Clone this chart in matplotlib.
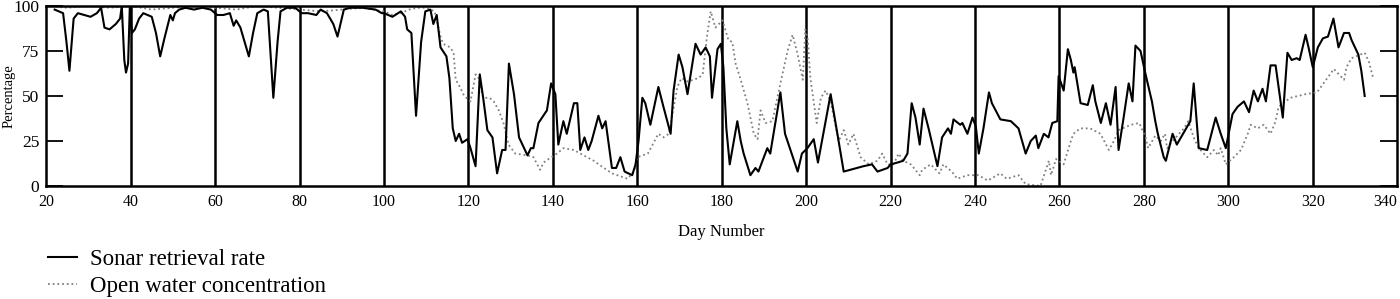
import numpy as np
import matplotlib
matplotlib.use("Agg")
import matplotlib.pyplot as plt

# sonar retrieval rate (solid line)
sonar_day = [22, 23, 24, 24.8, 25.5, 26.5, 27.5, 29, 30.5, 32, 33, 33.8, 35, 36.5, 37.5, 37.9,
             38.5, 38.9, 39.4, 39.8, 40.3, 41, 42, 43, 44, 45, 46, 47, 48, 49.4, 50, 50.5,
             51.5, 53, 55, 57, 59, 60.5, 62, 63.5, 64.4, 65, 66, 67, 68, 69, 70, 71.5,
             72.5, 73.8, 74.8, 75.5, 77, 79, 80.5, 82, 84, 85, 86.5, 88, 89, 90.5,
             92, 95, 98, 99.5, 100, 102, 104, 105, 105.5, 106.5, 107.6, 108.8, 109.8, 111,
             111.7, 112.5, 113.4, 114.8, 115.5, 116.3, 117, 117.8, 118.5, 119.8, 120.5, 121.7,
             122.7, 123.5, 124.5, 125.7, 126.8, 128, 128.8, 129.6, 130.8, 132, 134, 134.8,
             135.4, 136.6, 138.6, 139.6, 140.6, 141.3, 142.5, 143.3, 145, 145.8, 146.5, 147.5,
             148.4, 149.2, 150.8, 151.7, 152.5, 154, 155, 156, 157, 158.8, 159.6, 160.3,
             161.2, 161.9, 163.1, 165, 166.2, 167.9, 168.6, 169.8, 170.7, 171.9, 173.8, 175,
             176.2, 177.2, 177.7, 179, 179.8, 180.4, 181.1, 181.9, 183.7, 184.5, 185.2, 186.8,
             188, 188.7, 190.8, 191.5, 193.9, 195, 198, 199, 200.3, 201.8, 202.8, 205.8,
             207.4, 208.9, 210.5, 213.6, 215.6, 216.9, 219.3, 220, 221.6, 223, 224, 225,
             225.9, 226.9, 227.8, 229, 231.1, 232.2, 233.6, 234.3, 234.9, 236.5, 237, 238.2,
             239.4, 240.2, 240.9, 242, 243.3, 244, 246, 248.5, 250.3, 252, 253.2, 254.4,
             255, 256.3, 257.4, 258.3, 259.5, 259.8, 261, 262, 262.7, 263.3, 263.6, 265,
             266.7, 267.9, 268.5, 269.8, 271, 272.1, 273.3, 274, 275.2, 276.4, 277.3, 278,
             279.2, 280.4, 281.9, 282.7, 283.3, 284.7, 285.2, 286.8, 287.8, 291, 291.8, 293,
             295, 297, 298.2, 299.4, 301, 302.2, 303.7, 304.9, 306, 307, 308.1, 308.9,
             310, 311.2, 312.9, 314, 315, 316.2, 316.9, 318.3, 319, 320, 321.2, 322.4,
             323.6, 324.9, 326.1, 327.4, 328.6, 329.2, 330.8, 331.5, 332.3]
sonar_pct = [98, 97, 96, 80, 64, 93, 96, 95, 94, 96, 99, 88, 87, 90, 93, 100,
             70, 63, 68, 99, 85, 87, 93, 96, 95, 94, 85, 72, 82, 95, 92, 96,
             98, 99, 98, 99, 98, 95, 95, 96, 89, 92, 88, 80, 72, 85, 96, 98,
             97, 49, 80, 97, 99, 99, 96, 96, 95, 98, 96, 90, 83, 98,
             99, 99, 98, 96, 96, 94, 97, 94, 87, 85, 39, 80, 97, 98,
             90, 95, 77, 72, 60, 32, 25, 29, 24, 26, 21, 11,
             62, 49, 31, 27, 7, 20, 20, 68, 51, 27, 17, 21,
             21, 35, 42, 57, 51, 23, 36, 29, 46, 46, 20, 27,
             20, 25, 39, 32, 36, 10, 10, 16, 8, 6, 12, 25,
             49, 46, 34, 55, 44, 29, 53, 73, 66, 51, 79, 73,
             77, 72, 49, 76, 79, 66, 32, 12, 36, 25, 18, 6,
             10, 8, 21, 18, 52, 29, 8, 18, 21, 26, 13, 51,
             29, 8, 9, 11, 12, 8, 10, 12, 13, 14, 18, 46,
             38, 23, 43, 32, 11, 27, 32, 29, 37, 34, 35, 29,
             38, 33, 18, 32, 52, 46, 37, 36, 32, 18, 25, 28,
             21, 29, 27, 35, 36, 61, 53, 76, 70, 63, 66, 46,
             45, 56, 47, 35, 46, 34, 55, 20, 38, 57, 47, 78,
             75, 62, 47, 36, 29, 16, 14, 29, 23, 36, 57, 21,
             20, 38, 29, 21, 40, 44, 47, 41, 53, 47, 54, 47,
             67, 67, 38, 74, 70, 71, 70, 84, 77, 66, 77, 82,
             83, 93, 77, 85, 85, 81, 73, 64, 50]

# open water concentration (dotted line)
water_day = [20, 25, 30, 35, 40, 45, 50, 55, 60, 65, 70, 75, 80, 85, 90, 95,
             100, 102, 104, 106, 108, 110, 112, 113.4, 114, 115.7, 116.5, 117, 118, 119,
             120.5, 121.7, 122.4, 123.5, 125, 126, 127.2, 128.3, 129.5, 131.1, 134, 135.4,
             137, 137.8, 139, 141, 142.5, 145, 146.5, 149.7, 151.5, 154, 157.7, 159.2,
             160, 162.5, 165, 166.2, 167.5, 169.5, 170.5, 172, 174.5, 175.5, 176.5, 177.4,
             178.5, 180.2, 181.6, 182.5, 183.3, 184.5, 186.1, 187.6, 188.5, 189.2, 190.4, 192,
             193.9, 195.6, 196.8, 198, 199.2, 199.8, 200.4, 201, 202.5, 203.5, 204.6, 205.8,
             207.7, 208.9, 210, 211.2, 212.9, 214.8, 216.9, 218, 219.3, 220.7, 221.9, 223,
             224.8, 226.9, 227.5, 229.5, 231.6, 232.5, 234.5, 235.8, 238.2, 239.6, 240.8, 243,
             246, 247.5, 250.3, 252, 255.5, 257.5, 258, 259.2, 261, 262.7, 263.3, 264.9,
             267.3, 269.7, 271.7, 272.9, 274, 276.9, 278.9, 280.4, 281, 282.7, 284, 285,
             285.5, 286.8, 289.5, 290.5, 291.8, 293, 295, 296.6, 297.6, 298.2, 299.4, 301.3,
             303, 304.6, 305.3, 307, 308.4, 310, 311.2, 311.9, 314.7, 318.3, 321, 325,
             327.4, 328, 329.2, 332.3, 333.3, 334.3]
water_pct = [100, 99, 100, 99, 100, 98, 99, 100, 99, 98, 100, 99, 98, 97, 98, 99,
             97, 95, 96, 98, 99, 99, 97, 83, 79, 77, 74, 59, 55, 50,
             47, 62, 60, 49, 49, 47, 42, 35, 23, 18, 17, 16,
             9, 13, 15, 18, 21, 20, 18, 14, 11, 7, 4, 8,
             16, 18, 29, 27, 29, 55, 60, 58, 60, 62, 83, 97,
             88, 92, 81, 80, 68, 59, 46, 29, 26, 42, 35, 36,
             57, 75, 84, 73, 59, 87, 81, 60, 35, 49, 53, 47,
             25, 31, 23, 29, 16, 12, 14, 18, 12, 12, 18, 14,
             12, 6, 9, 12, 7, 12, 8, 4, 6, 6, 6, 3,
             7, 4, 6, 1, 0, 14, 6, 15, 12, 25, 29, 32,
             32, 29, 20, 25, 31, 34, 35, 27, 21, 28, 25, 29,
             21, 25, 32, 36, 27, 21, 16, 20, 17, 21, 12, 16,
             20, 29, 34, 32, 34, 29, 36, 44, 49, 51, 52, 65,
             59, 66, 71, 74, 69, 60]

xticks = list(range(20, 341, 20))
yticks = [0, 25, 50, 75, 100]

plt.rcParams['font.family'] = ['Liberation Serif', 'DejaVu Serif']

fig = plt.figure(figsize=(14, 2.99), dpi=100)
ax = fig.add_axes([0.033, 0.378, 0.965, 0.602])

# section dividers every 20 days
for d in xticks[1:-1]:
    ax.axvline(d, color='k', lw=1.8, zorder=1)

l1, = ax.plot(sonar_day, sonar_pct, color='k', lw=1.5, zorder=3,
              label='Sonar retrieval rate')
l2, = ax.plot(water_day, water_pct, color='#808080', lw=1.3,
              linestyle=(0, (1, 1.6)), zorder=2,
              label='Open water concentration')

ax.set_xlim(20, 340)
ax.set_ylim(0, 100)
ax.set_xticks(xticks)
ax.set_yticks(yticks)
ax.tick_params(axis='x', length=0, pad=6, labelsize=11.5)
ax.tick_params(axis='y', direction='in', length=12, width=1.3, labelsize=12.5,
               right=True, pad=5)
ax.get_xticklabels()[-1].set_horizontalalignment('right')
for s in ax.spines.values():
    s.set_linewidth(1.8)

ax.set_ylabel('Percentage', fontsize=10.5)
ax.yaxis.set_label_coords(-0.0225, 0.5)
ax.set_xlabel('Day Number', fontsize=12, labelpad=10)

fig.legend(handles=[l1, l2], loc='lower left', bbox_to_anchor=(0.033, 0.0),
           frameon=False, fontsize=16.5, handlelength=1.25, labelspacing=0.25,
           handletextpad=0.55, borderpad=0.1, borderaxespad=0)

fig.savefig('out.png', dpi=100)
